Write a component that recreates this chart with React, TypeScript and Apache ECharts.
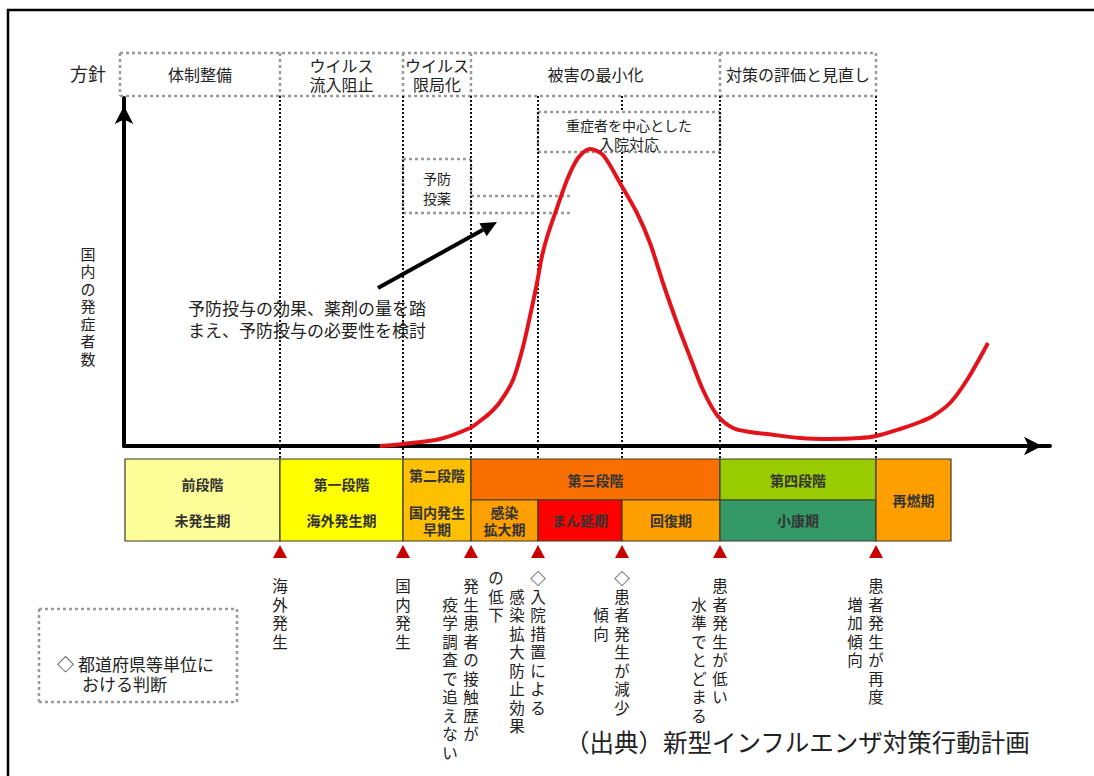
import React, { useEffect, useRef } from "react";
import * as echarts from "echarts";

// ---- data (x in time-like units along the horizontal axis, y = number of domestic cases, arbitrary units) ----
const curveX = [256, 279, 316, 346, 356, 366, 376, 389, 399, 408, 413, 418, 424, 433, 443, 454, 466, 479, 496, 513, 526, 539, 553, 566, 579, 593, 609, 626, 643, 676, 706, 736, 752, 776, 796, 809, 826, 843, 864];
const curveY = [0, 2, 7, 18, 25, 33, 44, 66, 99, 139, 163, 190, 212, 238, 266, 288, 297, 291, 263, 233, 203, 163, 123, 89, 56, 31, 18, 14, 12, 8, 7, 8, 10, 17, 24, 30, 43, 66, 103];

const policyNames = ["体制整備", "ウイルス\n流入阻止", "ウイルス\n限局化", "被害の最小化", "対策の評価と見直し"];
const policyEdges = [-4, 156, 279, 347, 596, 752];

const eventX = [156, 279, 347, 414, 498, 596, 752];
const eventText = [
  ["海外発生"],
  ["国内発生"],
  ["発生患者の接触歴が", "　疫学調査で追えない"],
  ["◇入院措置による", "　感染拡大防止効果", "の低下"],
  ["◇患者発生が減少", "　　傾向"],
  ["患者発生が低い", "　水準でとどまる"],
  ["患者発生が再度", "　増加傾向"],
];

const stageNames = ["前段階", "第一段階", "第二段階", "第三段階", "第四段階", "再燃期"];
const stageEdges = [1, 156, 279, 347, 596, 752, 827];
const periodNames = ["未発生期", "海外発生期", "国内発生\n早期", "感染\n拡大期", "まん延期", "回復期", "小康期"];
const periodEdges = [1, 156, 279, 347, 414, 498, 596, 752];

// ---- styles ----
const FONT = '"Noto Sans CJK JP", "Noto Sans", sans-serif';
const stageColors = ["#FFFF99", "#FFFF00", "#FFC000", "#FA7000", "#99CC00", "#FFA000"];
const periodColors = ["#FFFF99", "#FFFF00", "#FFC000", "#FFA000", "#FF0000", "#FFA000", "#339966"];
const splitStages = [false, false, false, true, true, false];

export default function App() {
  const ref = useRef<HTMLDivElement>(null);
  useEffect(() => {
    const el = ref.current!;
    const chart = echarts.init(el, null, { renderer: "svg" });
    const axisCommon = {
      type: "value",
      axisLine: {
        show: true,
        onZero: false,
        symbol: ["none", "arrow"],
        symbolSize: [14, 18],
        symbolOffset: [0, -8],
        lineStyle: { color: "#000", width: 4 },
      },
      axisTick: { show: false },
      axisLabel: { show: false },
      splitLine: { show: false },
    };
    chart.setOption({
      animation: false,
      backgroundColor: "#ffffff",
      grid: { left: 124, right: 44, top: 98, bottom: 330 },
      xAxis: { ...axisCommon, min: 0, max: 926 },
      yAxis: { ...axisCommon, min: 0, max: 348 },
      series: [
        {
          type: "line",
          data: curveX.map((x, i) => [x, curveY[i]]),
          smooth: 0.3,
          symbol: "none",
          clip: false,
          z: 10,
          lineStyle: { color: "#E3131B", width: 4 },
        },
      ],
    });

    const X = (u: number) => chart.convertToPixel({ xAxisIndex: 0 }, u) as number;
    const g: any[] = [];
    const txt = (x: number, y: number, text: string, o: any = {}) => {
      const align = o.align || "center";
      const va = o.va || "middle";
      g.push({
        type: "text",
        x,
        y,
        z: 30,
        silent: true,
        style: {
          text,
          fontSize: o.size || 16,
          fontFamily: FONT,
          fontWeight: o.weight || "normal",
          fill: o.color || "#222",
          align,
          verticalAlign: va,
          textAlign: align,
          textVerticalAlign: va,
          lineHeight: o.lh || Math.round((o.size || 16) * 1.1),
        },
      });
    };
    const dotLine = (x1: number, y1: number, x2: number, y2: number, gray: boolean) => {
      g.push({
        type: "line",
        z: 5,
        silent: true,
        shape: { x1, y1, x2, y2 },
        style: gray
          ? { stroke: "#9a9a9a", lineWidth: 2.5, lineDash: [3, 3] }
          : { stroke: "#111", lineWidth: 2, lineDash: [2, 2] },
      });
    };
    const dotRect = (x0: number, y0: number, x1: number, y1: number) => {
      dotLine(x0, y0, x1, y0, true);
      dotLine(x0, y1, x1, y1, true);
      dotLine(x0, y0, x0, y1, true);
      dotLine(x1, y0, x1, y1, true);
    };

    // outer frame
    g.push({ type: "rect", z: 1, silent: true, shape: { x: 8, y: 10, width: 1100, height: 800 }, style: { fill: "none", stroke: "#000", lineWidth: 2.5 } });

    // policy row
    const pTop = 53, pBot = 96;
    dotRect(X(policyEdges[0]), pTop, X(policyEdges[policyEdges.length - 1]), pBot);
    for (let i = 1; i < policyEdges.length - 1; i++) dotLine(X(policyEdges[i]), pTop, X(policyEdges[i]), pBot, true);
    policyNames.forEach((n, i) => {
      const cx = (X(policyEdges[i]) + X(policyEdges[i + 1])) / 2;
      const lines = n.split("\n");
      if (lines.length === 1) txt(cx, 74, n, { size: 16 });
      else lines.forEach((l, k) => txt(cx, 64.5 + k * 19, l, { size: 16, lh: 17 }));
    });
    txt(88, 73, "方針", { size: 18 });

    // sub boxes
    const careBox = { x0: X(414), x1: X(596), y0: 112, y1: 152 };
    const prophBox = { x0: X(279), x1: X(347), y0: 159, y1: 213 };
    dotRect(careBox.x0, careBox.y0, careBox.x1, careBox.y1);
    dotRect(prophBox.x0, prophBox.y0, prophBox.x1, prophBox.y1);
    dotLine(prophBox.x1, 196, X(449), 196, true);
    dotLine(prophBox.x1, 213, X(449), 213, true);
    txt((careBox.x0 + careBox.x1) / 2, 125, "重症者を中心とした", { size: 14 });
    txt((careBox.x0 + careBox.x1) / 2, 143, "入院対応", { size: 15 });
    txt((prophBox.x0 + prophBox.x1) / 2, 178, "予防", { size: 14 });
    txt((prophBox.x0 + prophBox.x1) / 2, 198, "投薬", { size: 14 });

    // event vertical dotted lines
    eventX.forEach((e) => {
      const px = X(e);
      if (px > careBox.x0 + 2 && px < careBox.x1 - 2) {
        dotLine(px, pBot, px, careBox.y0, false);
        dotLine(px, careBox.y1, px, 459, false);
      } else {
        dotLine(px, pBot, px, 459, false);
      }
    });

    // annotation arrow
    const a0 = [378, 288], a1 = [497, 222];
    const dx = a1[0] - a0[0], dy = a1[1] - a0[1];
    const len = Math.hypot(dx, dy), ux = dx / len, uy = dy / len;
    const hl = 16, hw = 7.5;
    const bx = a1[0] - ux * hl, by = a1[1] - uy * hl;
    g.push({ type: "line", z: 20, silent: true, shape: { x1: a0[0], y1: a0[1], x2: bx, y2: by }, style: { stroke: "#000", lineWidth: 4 } });
    g.push({ type: "polygon", z: 20, silent: true, shape: { points: [[a1[0], a1[1]], [bx - uy * hw, by + ux * hw], [bx + uy * hw, by - ux * hw]] }, style: { fill: "#000" } });
    txt(188, 307, "予防投与の効果、薬剤の量を踏", { size: 17, align: "left" });
    txt(188, 329, "まえ、予防投与の必要性を検討", { size: 17, align: "left" });

    // y label
    Array.from("国内の発症者数").forEach((c, k) => txt(88, 253 + k * 17.5, c, { size: 15, lh: 16 }));

    // stage bar
    const bTop = 459, bMid = 500, bBot = 541;
    const border = "#3d3d2a";
    const rect = (x0: number, y0: number, x1: number, y1: number, fill: string) =>
      g.push({ type: "rect", z: 8, silent: true, shape: { x: x0, y: y0, width: x1 - x0, height: y1 - y0 }, style: { fill, stroke: border, lineWidth: 1.2 } });
    const barTxt = (cx: number, cy: number, t: string) => {
      const lines = t.split("\n");
      lines.forEach((l, k) => txt(cx, cy + (k - (lines.length - 1) / 2) * 17, l, { size: 14, weight: "bold", color: "#333", lh: 15 }));
    };
    stageNames.forEach((n, i) => {
      const x0 = X(stageEdges[i]), x1 = X(stageEdges[i + 1]);
      const cx = (x0 + x1) / 2;
      const periods = periodNames
        .map((p, j) => ({ p, j, a: periodEdges[j], b: periodEdges[j + 1] }))
        .filter((q) => q.a >= stageEdges[i] && q.b <= stageEdges[i + 1]);
      if (splitStages[i]) {
        rect(x0, bTop, x1, bMid, stageColors[i]);
        barTxt(cx, (bTop + bMid) / 2, n);
        periods.forEach((q) => {
          const qx0 = X(q.a), qx1 = X(q.b);
          rect(qx0, bMid, qx1, bBot, periodColors[q.j]);
          barTxt((qx0 + qx1) / 2, 520, q.p);
        });
      } else if (periods.length) {
        rect(x0, bTop, x1, bBot, stageColors[i]);
        const multi = periods[0].p.includes("\n");
        barTxt(cx, multi ? 475 : 484, n);
        barTxt(cx, 520, periods[0].p);
      } else {
        rect(x0, bTop, x1, bBot, stageColors[i]);
        barTxt(cx, 500, n);
      }
    });

    // triangles + vertical event texts (one text per character, stacked top to bottom)
    const LH = 18.5;
    eventX.forEach((e, i) => {
      const px = X(e);
      g.push({ type: "polygon", z: 20, silent: true, shape: { points: [[px - 7, 558], [px + 7, 558], [px, 545]] }, style: { fill: "#C80000" } });
      const base = eventText[i][0].startsWith("◇") ? 577 : 585;
      eventText[i].forEach((col, k) => {
        Array.from(col).forEach((c, r) => {
          if (c === "　") return;
          txt(px - k * 21, base + r * LH, c, { size: 15.5, lh: 15.5 });
        });
      });
    });

    // legend box
    dotRect(39, 609, 237, 702);
    txt(57, 663, "◇", { size: 17, align: "left" });
    txt(78, 663, "都道府県等単位に", { size: 17, align: "left" });
    txt(82, 683, "おける判断", { size: 17, align: "left" });

    // source
    txt(565, 741, "（出典）新型インフルエンザ対策行動計画", { size: 24.5, align: "left", color: "#222" });

    chart.setOption({ graphic: { elements: g } });
    return () => chart.dispose();
  }, []);
  return <div ref={ref} style={{ position: "absolute", left: 0, top: 0, width: 1094, height: 776 }} />;
}
